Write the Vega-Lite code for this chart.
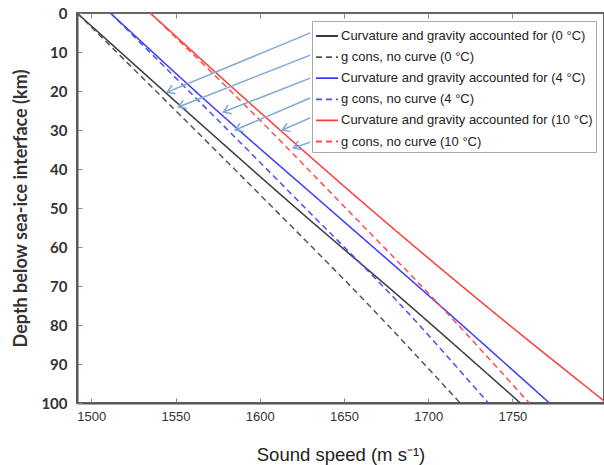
{
  "$schema": "https://vega.github.io/schema/vega-lite/v6.json",
  "width": 527,
  "height": 390,
  "autosize": {"type": "none"},
  "padding": {"left": 77, "top": 13, "right": 0, "bottom": 62},
  "background": "white",
  "config": {
    "view": {"stroke": "#666", "strokeWidth": 2},
    "axis": {"domainColor": "#555", "domainWidth": 2, "tickColor": "#888", "grid": false},
    "legend": {
      "labelFont": "Liberation Sans",
      "labelFontSize": 13,
      "labelColor": "#222",
      "strokeColor": "#aaa",
      "fillColor": "white",
      "padding": 3,
      "symbolStrokeWidth": 1.8,
      "symbolSize": 484,
      "labelOffset": 2,
      "rowPadding": 2.1,
      "labelLimit": 400
    }
  },
  "datasets": {
    "lines": [
      {"series": "Curvature and gravity accounted for (0 °C)", "depth": 0, "speed": 1491.5},
      {"series": "Curvature and gravity accounted for (0 °C)", "depth": 25, "speed": 1556},
      {"series": "Curvature and gravity accounted for (0 °C)", "depth": 50, "speed": 1621.5},
      {"series": "Curvature and gravity accounted for (0 °C)", "depth": 75, "speed": 1689},
      {"series": "Curvature and gravity accounted for (0 °C)", "depth": 100, "speed": 1754.7},
      {"series": "g cons, no curve (0 °C)", "depth": 0, "speed": 1491.5},
      {"series": "g cons, no curve (0 °C)", "depth": 25, "speed": 1550},
      {"series": "g cons, no curve (0 °C)", "depth": 50, "speed": 1608},
      {"series": "g cons, no curve (0 °C)", "depth": 75, "speed": 1665},
      {"series": "g cons, no curve (0 °C)", "depth": 100, "speed": 1719},
      {"series": "Curvature and gravity accounted for (4 °C)", "depth": 0, "speed": 1511.3},
      {"series": "Curvature and gravity accounted for (4 °C)", "depth": 25, "speed": 1574.5},
      {"series": "Curvature and gravity accounted for (4 °C)", "depth": 50, "speed": 1640.7},
      {"series": "Curvature and gravity accounted for (4 °C)", "depth": 75, "speed": 1707},
      {"series": "Curvature and gravity accounted for (4 °C)", "depth": 100, "speed": 1772},
      {"series": "g cons, no curve (4 °C)", "depth": 0, "speed": 1511.3},
      {"series": "g cons, no curve (4 °C)", "depth": 25, "speed": 1569.5},
      {"series": "g cons, no curve (4 °C)", "depth": 50, "speed": 1627},
      {"series": "g cons, no curve (4 °C)", "depth": 75, "speed": 1684},
      {"series": "g cons, no curve (4 °C)", "depth": 100, "speed": 1735.7},
      {"series": "Curvature and gravity accounted for (10 °C)", "depth": 0, "speed": 1535},
      {"series": "Curvature and gravity accounted for (10 °C)", "depth": 25, "speed": 1599},
      {"series": "Curvature and gravity accounted for (10 °C)", "depth": 50, "speed": 1665},
      {"series": "Curvature and gravity accounted for (10 °C)", "depth": 75, "speed": 1734},
      {"series": "Curvature and gravity accounted for (10 °C)", "depth": 100, "speed": 1806},
      {"series": "g cons, no curve (10 °C)", "depth": 0, "speed": 1535},
      {"series": "g cons, no curve (10 °C)", "depth": 25, "speed": 1594.4},
      {"series": "g cons, no curve (10 °C)", "depth": 50, "speed": 1651},
      {"series": "g cons, no curve (10 °C)", "depth": 75, "speed": 1707},
      {"series": "g cons, no curve (10 °C)", "depth": 100, "speed": 1760}
    ],
    "arrows": [
      {"x0": 1630, "y0": 5.1, "x1": 1545.1, "y1": 20.3},
      {"x0": 1630, "y0": 10.8, "x1": 1551.7, "y1": 24.1},
      {"x0": 1630, "y0": 16.7, "x1": 1578.4, "y1": 25.4},
      {"x0": 1630, "y0": 21.8, "x1": 1585.5, "y1": 30},
      {"x0": 1630, "y0": 26.9, "x1": 1613.4, "y1": 30},
      {"x0": 1630, "y0": 33.1, "x1": 1620, "y1": 34.6}
    ]
  },
  "resolve": {"axis": {"x": "independent", "y": "independent"}},
  "layer": [
    {
      "data": {"name": "lines"},
      "mark": {"type": "line", "strokeWidth": 1.5, "clip": true, "interpolate": "monotone"},
      "encoding": {
        "x": {
          "field": "speed", "type": "quantitative",
          "scale": {"domain": [1491.5, 1804.4], "zero": false, "nice": false},
          "axis": {
            "orient": "bottom",
            "values": [1500, 1550, 1600, 1650, 1700, 1750],
            "title": "Sound speed (m s⁻¹)",
            "titleFont": "Liberation Sans", "titleFontSize": 18.5, "titleFontWeight": "normal", "titleColor": "#222",
            "titlePadding": 22,
            "labelFont": "Liberation Sans", "labelFontSize": 13, "labelColor": "#333",
            "tickSize": -5, "labelPadding": 12, "format": "d"
          }
        },
        "y": {
          "field": "depth", "type": "quantitative",
          "scale": {"domain": [0, 100], "reverse": true, "nice": false},
          "axis": {
            "values": [0, 10, 20, 30, 40, 50, 60, 70, 80, 90, 100],
            "title": "Depth below sea-ice interface (km)",
            "titleFont": "Lato", "titleFontSize": 18, "titleFontWeight": "bold", "titleColor": "#333",
            "titlePadding": 10,
            "labelFont": "Lato", "labelFontSize": 15, "labelFontWeight": "bold", "labelColor": "#333",
            "tickSize": -5, "labelPadding": 15
          }
        },
        "color": {
          "field": "series", "type": "nominal",
          "scale": {
            "domain": [
              "Curvature and gravity accounted for (0 °C)",
              "g cons, no curve (0 °C)",
              "Curvature and gravity accounted for (4 °C)",
              "g cons, no curve (4 °C)",
              "Curvature and gravity accounted for (10 °C)",
              "g cons, no curve (10 °C)"
            ],
            "range": ["#3a3a3a", "#555555", "#3c3cff", "#4c4cff", "#ff3c3c", "#ff4c4c"]
          },
          "legend": {"title": null, "orient": "none", "legendX": 235, "legendY": 8}
        },
        "strokeDash": {
          "field": "series", "type": "nominal",
          "scale": {
            "domain": [
              "Curvature and gravity accounted for (0 °C)",
              "g cons, no curve (0 °C)",
              "Curvature and gravity accounted for (4 °C)",
              "g cons, no curve (4 °C)",
              "Curvature and gravity accounted for (10 °C)",
              "g cons, no curve (10 °C)"
            ],
            "range": [[1, 0], [6, 4], [1, 0], [6, 4], [1, 0], [6, 4]]
          },
          "legend": {"title": null, "orient": "none", "legendX": 235, "legendY": 8}
        }
      }
    },
    {
      "data": {"name": "arrows"},
      "mark": {"type": "rule", "color": "#7da8d8", "strokeWidth": 1.5},
      "encoding": {
        "x": {
          "field": "x0", "type": "quantitative",
          "axis": {"orient": "top", "values": [1500, 1550, 1600, 1650, 1700, 1750], "labels": false, "title": null, "tickSize": -5, "domain": false}
        },
        "y": {"field": "y0", "type": "quantitative", "axis": null},
        "x2": {"field": "x1"},
        "y2": {"field": "y1"}
      }
    },
    {
      "data": {"name": "arrows"},
      "mark": {"type": "point", "shape": "M 1 -0.65 L 0 0 L 1 0.65", "filled": false, "stroke": "#7da8d8", "strokeWidth": 1.5, "size": 200, "angle": -22, "opacity": 1},
      "encoding": {
        "x": {"field": "x1", "type": "quantitative", "axis": null},
        "y": {"field": "y1", "type": "quantitative", "axis": null}
      }
    }
  ]
}
